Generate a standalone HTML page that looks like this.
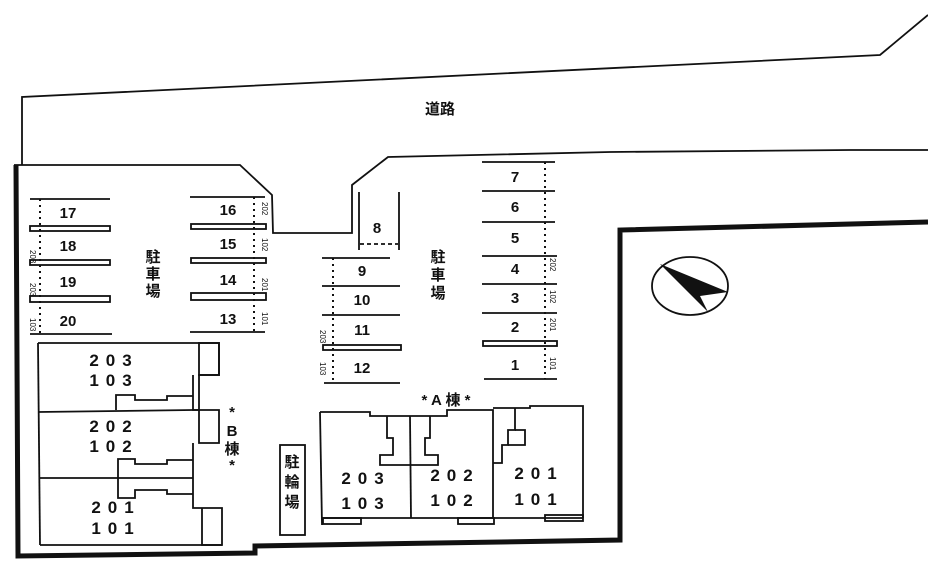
<!DOCTYPE html>
<html><head><meta charset="utf-8"><style>
html,body{margin:0;padding:0;background:#fff}
svg{display:block}
text{font-family:"Liberation Sans","Noto Sans CJK JP",sans-serif;fill:#111}
.n{font-size:15px;text-anchor:middle;font-weight:bold}
.u{font-size:17px;letter-spacing:7px;text-anchor:middle;font-weight:bold}
.k{font-size:15px;font-weight:bold;text-anchor:middle}
.s{font-size:8px}
</style></head><body>
<svg width="928" height="561" viewBox="0 0 928 561" xmlns="http://www.w3.org/2000/svg" fill="none" stroke="#111" stroke-width="1.8">
<polyline points="22,165 22,97 880,55 928,15"/>
<polyline points="14,165 240,165 272,195 273,233 352,233 352,185 388,157 610,152 850,150 928,150"/>
<text x="440" y="114" class="k" stroke="none">道路</text>
<polyline points="16,165 18,556 255,553 255,546 620,540 620,230 928,222" stroke-width="5"/>
<ellipse cx="690" cy="286" rx="38" ry="29"/>
<polygon points="660,264 728,292 700,296 708,312" fill="#111" stroke="none"/>
<line x1="30" y1="199" x2="110" y2="199"/>
<rect x="30" y="226" width="80" height="5"/>
<rect x="30" y="260" width="80" height="5"/>
<rect x="30" y="296" width="80" height="6"/>
<line x1="30" y1="334" x2="112" y2="334"/>
<line x1="40" y1="199" x2="40" y2="334" stroke-dasharray="2,4" stroke-width="2"/>
<text x="68" y="218" class="n" stroke="none">17</text>
<text x="68" y="251" class="n" stroke="none">18</text>
<text x="68" y="287" class="n" stroke="none">19</text>
<text x="68" y="326" class="n" stroke="none">20</text>
<text x="153" y="262" class="k" stroke="none">駐</text>
<text x="153" y="279" class="k" stroke="none">車</text>
<text x="153" y="296" class="k" stroke="none">場</text>
<line x1="190" y1="197" x2="265" y2="197"/>
<rect x="191" y="224" width="75" height="5"/>
<rect x="191" y="258" width="75" height="5"/>
<rect x="191" y="293" width="75" height="7"/>
<line x1="190" y1="332" x2="265" y2="332"/>
<line x1="254" y1="197" x2="254" y2="332" stroke-dasharray="2,4" stroke-width="2"/>
<text x="228" y="215" class="n" stroke="none">16</text>
<text x="228" y="249" class="n" stroke="none">15</text>
<text x="228" y="285" class="n" stroke="none">14</text>
<text x="228" y="324" class="n" stroke="none">13</text>
<line x1="359" y1="192" x2="359" y2="250"/>
<line x1="399" y1="192" x2="399" y2="250"/>
<line x1="360" y1="244" x2="398" y2="244" stroke-dasharray="4,3"/>
<text x="377" y="233" class="n" stroke="none">8</text>
<line x1="322" y1="258" x2="390" y2="258"/>
<line x1="322" y1="286" x2="400" y2="286"/>
<line x1="322" y1="315" x2="400" y2="315"/>
<rect x="323" y="345" width="78" height="5"/>
<line x1="324" y1="383" x2="400" y2="383"/>
<line x1="333" y1="258" x2="333" y2="383" stroke-dasharray="2,4" stroke-width="2"/>
<text x="362" y="276" class="n" stroke="none">9</text>
<text x="362" y="305" class="n" stroke="none">10</text>
<text x="362" y="335" class="n" stroke="none">11</text>
<text x="362" y="373" class="n" stroke="none">12</text>
<text x="438" y="262" class="k" stroke="none">駐</text>
<text x="438" y="280" class="k" stroke="none">車</text>
<text x="438" y="298" class="k" stroke="none">場</text>
<line x1="482" y1="162" x2="555" y2="162"/>
<line x1="482" y1="191" x2="555" y2="191"/>
<line x1="482" y1="222" x2="555" y2="222"/>
<line x1="482" y1="256" x2="557" y2="256"/>
<line x1="482" y1="284" x2="557" y2="284"/>
<line x1="482" y1="313" x2="557" y2="313"/>
<rect x="483" y="341" width="74" height="5"/>
<line x1="484" y1="379" x2="557" y2="379"/>
<line x1="545" y1="162" x2="545" y2="379" stroke-dasharray="2,4" stroke-width="2"/>
<text x="515" y="182" class="n" stroke="none">7</text>
<text x="515" y="212" class="n" stroke="none">6</text>
<text x="515" y="243" class="n" stroke="none">5</text>
<text x="515" y="274" class="n" stroke="none">4</text>
<text x="515" y="303" class="n" stroke="none">3</text>
<text x="515" y="332" class="n" stroke="none">2</text>
<text x="515" y="370" class="n" stroke="none">1</text>
<g stroke="none">
<text x="30" y="250" transform="rotate(90 30 250)" class="s">203</text>
<text x="30" y="283" transform="rotate(90 30 283)" class="s">203</text>
<text x="30" y="318" transform="rotate(90 30 318)" class="s">103</text>
<text x="262" y="202" transform="rotate(90 262 202)" class="s">202</text>
<text x="262" y="238" transform="rotate(90 262 238)" class="s">102</text>
<text x="262" y="278" transform="rotate(90 262 278)" class="s">201</text>
<text x="262" y="312" transform="rotate(90 262 312)" class="s">101</text>
<text x="320" y="330" transform="rotate(90 320 330)" class="s">203</text>
<text x="320" y="362" transform="rotate(90 320 362)" class="s">103</text>
<text x="550" y="258" transform="rotate(90 550 258)" class="s">202</text>
<text x="550" y="290" transform="rotate(90 550 290)" class="s">102</text>
<text x="550" y="318" transform="rotate(90 550 318)" class="s">201</text>
<text x="550" y="357" transform="rotate(90 550 357)" class="s">101</text>
</g>
<polyline points="38,343 219,343 219,375 199,375 199,410 193,410"/>
<line x1="38" y1="343" x2="40" y2="545"/>
<line x1="40" y1="545" x2="222" y2="545"/>
<line x1="38" y1="412" x2="193" y2="410"/>
<line x1="40" y1="478" x2="193" y2="478"/>
<rect x="199" y="343" width="20" height="32"/>
<polyline points="193,375 193,410 199,410 199,443 219,443 219,410 199,410"/>
<polyline points="193,443 193,508 202,508 202,545 222,545 222,508 202,508"/>
<polyline points="193,396 167,396 167,400 135,400 135,395 116,395 116,410"/>
<polyline points="193,460 167,460 167,464 135,464 135,459 118,459 118,498 135,498 135,490 167,490 167,494 193,494"/>
<text x="114" y="366" class="u" stroke="none">203</text>
<text x="114" y="386" class="u" stroke="none">103</text>
<text x="114" y="432" class="u" stroke="none">202</text>
<text x="114" y="452" class="u" stroke="none">102</text>
<text x="116" y="513" class="u" stroke="none">201</text>
<text x="116" y="534" class="u" stroke="none">101</text>
<text x="232" y="417" class="k" stroke="none">*</text>
<text x="232" y="436" class="k" stroke="none">B</text>
<text x="232" y="454" class="k" stroke="none">棟</text>
<text x="232" y="470" class="k" stroke="none">*</text>
<rect x="280" y="445" width="25" height="90"/>
<text x="292" y="467" class="k" stroke="none">駐</text>
<text x="292" y="487" class="k" stroke="none">輪</text>
<text x="292" y="507" class="k" stroke="none">場</text>
<text x="446" y="405" class="k" stroke="none">* A 棟 *</text>
<polyline points="320,412 370,412 370,416 447,416 447,410 493,410 493,518"/>
<line x1="320" y1="412" x2="322" y2="525"/>
<line x1="322" y1="518" x2="583" y2="518"/>
<polyline points="493,408 530,408 530,406 583,406 583,518"/>
<line x1="410" y1="416" x2="411" y2="518"/>
<polyline points="387,416 387,438 393,438 393,455 380,455 380,465 438,465 438,455 425,455 425,438 430,438 430,416"/>
<polyline points="515,408 515,430 508,430 508,445 502,445 502,463 493,463"/>
<polyline points="508,445 525,445 525,430 515,430"/>
<rect x="323" y="518" width="38" height="6"/>
<rect x="458" y="518" width="36" height="6"/>
<rect x="545" y="515" width="38" height="6"/>
<text x="366" y="484" class="u" stroke="none">203</text>
<text x="366" y="509" class="u" stroke="none">103</text>
<text x="455" y="481" class="u" stroke="none">202</text>
<text x="455" y="506" class="u" stroke="none">102</text>
<text x="539" y="479" class="u" stroke="none">201</text>
<text x="539" y="505" class="u" stroke="none">101</text>
</svg>
</body></html>
